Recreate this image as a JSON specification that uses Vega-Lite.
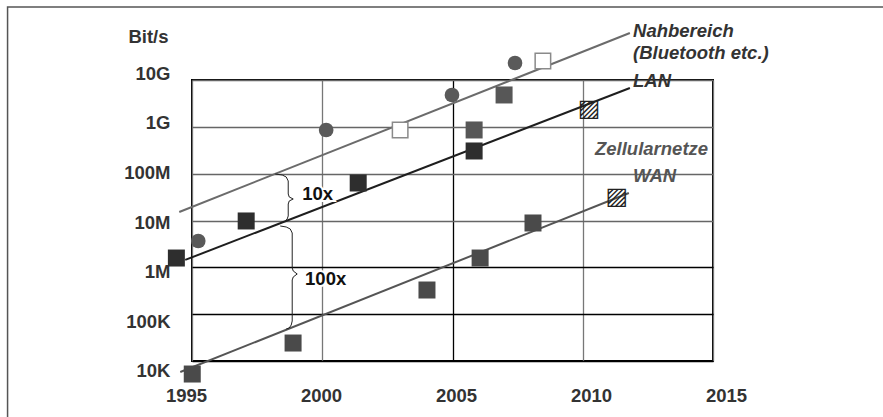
{
  "$schema": "https://vega.github.io/schema/vega-lite/v6.json",
  "width": 521,
  "height": 281,
  "autosize": {"type": "none"},
  "padding": {"left": 192, "top": 80, "right": 170, "bottom": 56},
  "background": "white",
  "config": {
    "view": {"stroke": "#000000", "strokeWidth": 2},
    "axis": {
      "domain": false,
      "ticks": false,
      "labelFlush": false,
      "labelOverlap": false,
      "labelFont": "Liberation Sans",
      "labelFontWeight": "bold",
      "labelFontSize": 18.5,
      "labelColor": "#333333",
      "titleFont": "Liberation Sans",
      "titleFontWeight": "bold",
      "titleFontSize": 18.5,
      "titleColor": "#333333",
      "gridOpacity": 1,
      "gridWidth": 1.3
    }
  },
  "datasets": {
    "points": [
      {"type": "circle", "year": 1995.24, "bps": 3650000},
      {"type": "circle", "year": 2000.15, "bps": 857000000},
      {"type": "circle", "year": 2004.98, "bps": 4790000000},
      {"type": "circle", "year": 2007.40, "bps": 23100000000},
      {"type": "open", "year": 2002.99, "bps": 857000000},
      {"type": "open", "year": 2008.47, "bps": 25500000000},
      {"type": "lan", "year": 1994.40, "bps": 1580000},
      {"type": "lan", "year": 1997.08, "bps": 9770000},
      {"type": "lan", "year": 2001.38, "bps": 63200000},
      {"type": "lan", "year": 2005.83, "bps": 305000000},
      {"type": "gray", "year": 2005.83, "bps": 857000000},
      {"type": "gray", "year": 2006.98, "bps": 4790000000},
      {"type": "wan", "year": 1995.01, "bps": 5270},
      {"type": "wan", "year": 1998.88, "bps": 24200},
      {"type": "wan", "year": 2004.02, "bps": 328000},
      {"type": "wan", "year": 2006.06, "bps": 1580000},
      {"type": "wan", "year": 2008.09, "bps": 8850000},
      {"type": "hatched", "year": 2010.24, "bps": 2400000000},
      {"type": "hatched", "year": 2011.31, "bps": 31800000}
    ],
    "trends": [
      {"series": "Nahbereich", "year": 1994.51, "bps": 15200000},
      {"series": "Nahbereich", "year": 2011.81, "bps": 101000000000},
      {"series": "LAN", "year": 1994.74, "bps": 1440000},
      {"series": "LAN", "year": 2011.81, "bps": 6760000000},
      {"series": "WAN", "year": 1994.55, "bps": 5820},
      {"series": "WAN", "year": 2011.77, "bps": 38700000}
    ],
    "braces": [
      {"brace": "10x", "order": 1, "year": 1998.195, "bps": 98400000},
      {"brace": "10x", "order": 2, "year": 1998.464, "bps": 93700000},
      {"brace": "10x", "order": 3, "year": 1998.617, "bps": 84900000},
      {"brace": "10x", "order": 4, "year": 1998.694, "bps": 69800000},
      {"brace": "10x", "order": 5, "year": 1998.694, "bps": 36800000},
      {"brace": "10x", "order": 6, "year": 1998.732, "bps": 31800000},
      {"brace": "10x", "order": 7, "year": 1998.886, "bps": 28800000},
      {"brace": "10x", "order": 8, "year": 1998.732, "bps": 26100000},
      {"brace": "10x", "order": 9, "year": 1998.694, "bps": 22500000},
      {"brace": "10x", "order": 10, "year": 1998.694, "bps": 12500000},
      {"brace": "10x", "order": 11, "year": 1998.655, "bps": 10800000},
      {"brace": "10x", "order": 12, "year": 1998.578, "bps": 9770000},
      {"brace": "100x", "order": 1, "year": 1998.387, "bps": 7640000},
      {"brace": "100x", "order": 2, "year": 1998.617, "bps": 7270000},
      {"brace": "100x", "order": 3, "year": 1998.771, "bps": 6590000},
      {"brace": "100x", "order": 4, "year": 1998.847, "bps": 5410000},
      {"brace": "100x", "order": 5, "year": 1998.847, "bps": 968000},
      {"brace": "100x", "order": 6, "year": 1998.886, "bps": 836000},
      {"brace": "100x", "order": 7, "year": 1999.039, "bps": 721000},
      {"brace": "100x", "order": 8, "year": 1998.886, "bps": 622000},
      {"brace": "100x", "order": 9, "year": 1998.847, "bps": 537000},
      {"brace": "100x", "order": 10, "year": 1998.847, "bps": 71500},
      {"brace": "100x", "order": 11, "year": 1998.809, "bps": 58700},
      {"brace": "100x", "order": 12, "year": 1998.732, "bps": 50700},
      {"brace": "100x", "order": 13, "year": 1998.617, "bps": 48200}
    ],
    "labels": [
      {"group": "short", "text": "Nahbereich", "year": 2011.93, "bps": 83000000000},
      {"group": "short", "text": "(Bluetooth etc.)", "year": 2011.93, "bps": 27700000000},
      {"group": "short", "text": "LAN", "year": 2011.93, "bps": 7000000000},
      {"group": "cell", "text": "Zellularnetze", "year": 2010.47, "bps": 251000000},
      {"group": "cell", "text": "WAN", "year": 2011.93, "bps": 66400000},
      {"group": "factor", "text": "10x", "year": 1999.23, "bps": 27400000},
      {"group": "factor", "text": "100x", "year": 1999.34, "bps": 420000}
    ],
    "border": [
      {"x1": 1987.92, "x2": 2025, "y1": 362000000000, "y2": 400}
    ]
  },
  "encoding": {
    "x": {
      "field": "year",
      "type": "quantitative",
      "scale": {"domain": [1995, 2015], "zero": false, "nice": false},
      "axis": {
        "title": null,
        "values": [1995, 2000, 2005, 2010, 2015],
        "format": "d",
        "labelPadding": 25,
        "labelOffset": {"expr": "(datum.value - 2005) * 0.95 + 3.5"},
        "grid": true,
        "gridColor": {"condition": {"test": "datum.value == 2005", "value": "#000000"}, "value": "#777777"}
      }
    },
    "y": {
      "field": "bps",
      "type": "quantitative",
      "scale": {"type": "log", "domain": [10000, 10000000000], "nice": false},
      "axis": {
        "title": "Bit/s",
        "titleAngle": 0,
        "titleAlign": "right",
        "titleBaseline": "alphabetic",
        "titleX": -24,
        "titleY": -38,
        "values": [10000, 100000, 1000000, 10000000, 100000000, 1000000000, 10000000000],
        "labelExpr": "{'10000':'10K','100000':'100K','1000000':'1M','10000000':'10M','100000000':'100M','1000000000':'1G','10000000000':'10G'}[format(datum.value, 'd')]",
        "labelPadding": 22,
        "labelOffset": {"expr": "(7 - log(datum.value) / LN10) * 2.67 + 1.5"},
        "grid": true,
        "gridColor": {"condition": {"test": "datum.value <= 1000000", "value": "#000000"}, "value": "#666666"}
      }
    }
  },
  "layer": [
    {
      "data": {"name": "border"},
      "mark": {"type": "rect", "fill": null, "stroke": "#555555", "strokeWidth": 1.5},
      "encoding": {
        "x": {"field": "x1", "type": "quantitative"},
        "x2": {"field": "x2"},
        "y": {"field": "y1", "type": "quantitative"},
        "y2": {"field": "y2"}
      }
    },
    {
      "data": {"name": "trends"},
      "mark": {"type": "line", "strokeWidth": 2},
      "encoding": {
        "color": {
          "field": "series",
          "type": "nominal",
          "scale": {"domain": ["Nahbereich", "LAN", "WAN"], "range": ["#6b6b6b", "#1e1e1e", "#555555"]},
          "legend": null
        }
      }
    },
    {
      "data": {"name": "braces"},
      "mark": {"type": "line", "strokeWidth": 1, "color": "#222222"},
      "encoding": {
        "detail": {"field": "brace", "type": "nominal"},
        "order": {"field": "order", "type": "quantitative"}
      }
    },
    {
      "data": {"name": "points"},
      "transform": [{"filter": "datum.type == 'circle'"}],
      "mark": {"type": "point", "shape": "circle", "filled": true, "size": 215, "color": "#5a5a5a", "opacity": 1}
    },
    {
      "data": {"name": "points"},
      "transform": [{"filter": "datum.type == 'open'"}],
      "mark": {"type": "point", "shape": "square", "filled": true, "size": 240, "fill": "#ffffff", "stroke": "#8a8a8a", "strokeWidth": 1.5, "opacity": 1}
    },
    {
      "data": {"name": "points"},
      "transform": [{"filter": "datum.type == 'lan'"}],
      "mark": {"type": "point", "shape": "square", "filled": true, "size": 289, "color": "#2e2e2e", "opacity": 1}
    },
    {
      "data": {"name": "points"},
      "transform": [{"filter": "datum.type == 'gray'"}],
      "mark": {"type": "point", "shape": "square", "filled": true, "size": 289, "color": "#575757", "opacity": 1}
    },
    {
      "data": {"name": "points"},
      "transform": [{"filter": "datum.type == 'wan'"}],
      "mark": {"type": "point", "shape": "square", "filled": true, "size": 289, "color": "#4a4a4a", "opacity": 1}
    },
    {
      "data": {"name": "points"},
      "transform": [{"filter": "datum.type == 'hatched'"}],
      "mark": {"type": "text", "text": "▨", "font": "DejaVu Sans", "fontSize": 24, "align": "center", "baseline": "middle", "color": "#222222"}
    },
    {
      "data": {"name": "labels"},
      "transform": [{"filter": "datum.group == 'short'"}],
      "mark": {"type": "text", "align": "left", "baseline": "alphabetic", "font": "Liberation Sans", "fontSize": 18.5, "fontWeight": "bold", "fontStyle": "italic", "color": "#333333"},
      "encoding": {"text": {"field": "text"}}
    },
    {
      "data": {"name": "labels"},
      "transform": [{"filter": "datum.group == 'cell'"}],
      "mark": {"type": "text", "align": "left", "baseline": "alphabetic", "font": "Liberation Sans", "fontSize": 18.5, "fontWeight": "bold", "fontStyle": "italic", "color": "#555555"},
      "encoding": {"text": {"field": "text"}}
    },
    {
      "data": {"name": "labels"},
      "transform": [{"filter": "datum.group == 'factor'"}],
      "mark": {"type": "text", "align": "left", "baseline": "alphabetic", "font": "Liberation Sans", "fontSize": 18.5, "fontWeight": "bold", "color": "#ffffff", "stroke": "#ffffff", "strokeWidth": 4},
      "encoding": {"text": {"field": "text"}}
    },
    {
      "data": {"name": "labels"},
      "transform": [{"filter": "datum.group == 'factor'"}],
      "mark": {"type": "text", "align": "left", "baseline": "alphabetic", "font": "Liberation Sans", "fontSize": 18.5, "fontWeight": "bold", "color": "#111111"},
      "encoding": {"text": {"field": "text"}}
    }
  ]
}
